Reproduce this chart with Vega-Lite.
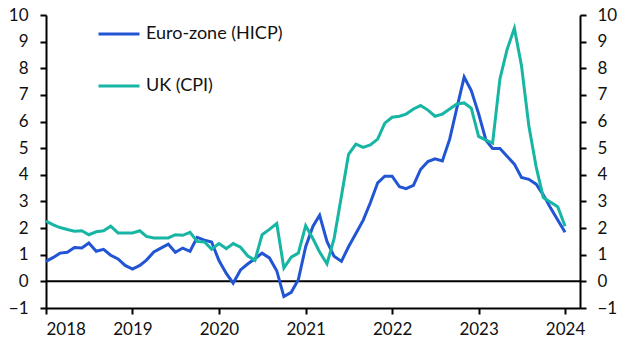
{
  "$schema": "https://vega.github.io/schema/vega-lite/v6.json",
  "width": 534,
  "height": 293,
  "autosize": {"type": "none"},
  "padding": {"left": 46, "top": 15, "right": 48, "bottom": 56},
  "background": "white",
  "config": {
    "view": {"stroke": null},
    "font": "Lato",
    "axis": {
      "domainColor": "black",
      "domainWidth": 2,
      "tickColor": "black",
      "tickWidth": 2,
      "tickSize": 6,
      "labelFont": "Lato",
      "labelFontSize": 17,
      "labelColor": "#111111",
      "grid": false,
      "title": null
    },
    "legend": {
      "orient": "none",
      "legendX": 51,
      "legendY": -3,
      "symbolType": "stroke",
      "symbolSize": 1681,
      "symbolStrokeWidth": 3,
      "labelFont": "Lato",
      "labelFontSize": 18,
      "labelColor": "#111111",
      "rowPadding": 21,
      "labelOffset": 5,
      "padding": 0
    }
  },
  "layer": [
    {
      "data": {"values": [{}]},
      "mark": {"type": "rule", "color": "black", "strokeWidth": 2},
      "encoding": {
        "y": {
          "datum": 0,
          "type": "quantitative",
          "scale": {"domain": [-1, 10], "nice": false, "zero": false},
          "axis": {"orient": "right", "values": [-1,0,1,2,3,4,5,6,7,8,9,10], "labelPadding": 11, "title": null}
        }
      }
    },
    {
      "data": {
        "values": [
          {"date": "2018-01-01", "ez": 0.75, "uk": 2.26},
          {"date": "2018-02-01", "ez": 0.9, "uk": 2.12},
          {"date": "2018-03-01", "ez": 1.06, "uk": 2.02},
          {"date": "2018-04-01", "ez": 1.09, "uk": 1.95},
          {"date": "2018-05-01", "ez": 1.27, "uk": 1.88},
          {"date": "2018-06-01", "ez": 1.25, "uk": 1.9},
          {"date": "2018-07-01", "ez": 1.44, "uk": 1.75},
          {"date": "2018-08-01", "ez": 1.13, "uk": 1.86},
          {"date": "2018-09-01", "ez": 1.2, "uk": 1.9},
          {"date": "2018-10-01", "ez": 0.98, "uk": 2.07},
          {"date": "2018-11-01", "ez": 0.84, "uk": 1.82},
          {"date": "2018-12-01", "ez": 0.6, "uk": 1.82},
          {"date": "2019-01-01", "ez": 0.46, "uk": 1.82},
          {"date": "2019-02-01", "ez": 0.6, "uk": 1.9},
          {"date": "2019-03-01", "ez": 0.8, "uk": 1.69},
          {"date": "2019-04-01", "ez": 1.1, "uk": 1.63},
          {"date": "2019-05-01", "ez": 1.25, "uk": 1.63},
          {"date": "2019-06-01", "ez": 1.4, "uk": 1.63},
          {"date": "2019-07-01", "ez": 1.09, "uk": 1.75},
          {"date": "2019-08-01", "ez": 1.25, "uk": 1.73},
          {"date": "2019-09-01", "ez": 1.13, "uk": 1.84},
          {"date": "2019-10-01", "ez": 1.65, "uk": 1.5},
          {"date": "2019-11-01", "ez": 1.55, "uk": 1.48},
          {"date": "2019-12-01", "ez": 1.48, "uk": 1.21},
          {"date": "2020-01-01", "ez": 0.78, "uk": 1.42},
          {"date": "2020-02-01", "ez": 0.3, "uk": 1.23},
          {"date": "2020-03-01", "ez": -0.07, "uk": 1.42},
          {"date": "2020-04-01", "ez": 0.43, "uk": 1.28},
          {"date": "2020-05-01", "ez": 0.65, "uk": 0.96},
          {"date": "2020-06-01", "ez": 0.85, "uk": 0.79},
          {"date": "2020-07-01", "ez": 1.06, "uk": 1.75},
          {"date": "2020-08-01", "ez": 0.88, "uk": 1.95},
          {"date": "2020-09-01", "ez": 0.4, "uk": 2.17},
          {"date": "2020-10-01", "ez": -0.57, "uk": 0.5},
          {"date": "2020-11-01", "ez": -0.41, "uk": 0.91},
          {"date": "2020-12-01", "ez": 0.06, "uk": 1.06},
          {"date": "2021-01-01", "ez": 1.3, "uk": 2.09},
          {"date": "2021-02-01", "ez": 2.07, "uk": 1.6},
          {"date": "2021-03-01", "ez": 2.48, "uk": 1.1},
          {"date": "2021-04-01", "ez": 1.5, "uk": 0.66},
          {"date": "2021-05-01", "ez": 0.94, "uk": 1.6},
          {"date": "2021-06-01", "ez": 0.75, "uk": 3.2},
          {"date": "2021-07-01", "ez": 1.3, "uk": 4.77},
          {"date": "2021-08-01", "ez": 1.8, "uk": 5.15},
          {"date": "2021-09-01", "ez": 2.3, "uk": 5.03},
          {"date": "2021-10-01", "ez": 2.95, "uk": 5.12},
          {"date": "2021-11-01", "ez": 3.7, "uk": 5.34},
          {"date": "2021-12-01", "ez": 3.95, "uk": 5.94},
          {"date": "2022-01-01", "ez": 3.95, "uk": 6.16},
          {"date": "2022-02-01", "ez": 3.55, "uk": 6.2},
          {"date": "2022-03-01", "ez": 3.48, "uk": 6.28},
          {"date": "2022-04-01", "ez": 3.6, "uk": 6.47},
          {"date": "2022-05-01", "ez": 4.2, "uk": 6.6},
          {"date": "2022-06-01", "ez": 4.5, "uk": 6.43},
          {"date": "2022-07-01", "ez": 4.6, "uk": 6.2},
          {"date": "2022-08-01", "ez": 4.52, "uk": 6.28},
          {"date": "2022-09-01", "ez": 5.34, "uk": 6.47},
          {"date": "2022-10-01", "ez": 6.5, "uk": 6.66},
          {"date": "2022-11-01", "ez": 7.67, "uk": 6.7},
          {"date": "2022-12-01", "ez": 7.16, "uk": 6.5},
          {"date": "2023-01-01", "ez": 6.3, "uk": 5.44},
          {"date": "2023-02-01", "ez": 5.3, "uk": 5.3},
          {"date": "2023-03-01", "ez": 4.99, "uk": 5.19},
          {"date": "2023-04-01", "ez": 4.99, "uk": 7.6},
          {"date": "2023-05-01", "ez": 4.7, "uk": 8.7},
          {"date": "2023-06-01", "ez": 4.4, "uk": 9.5},
          {"date": "2023-07-01", "ez": 3.9, "uk": 8.1},
          {"date": "2023-08-01", "ez": 3.83, "uk": 5.84},
          {"date": "2023-09-01", "ez": 3.65, "uk": 4.3},
          {"date": "2023-10-01", "ez": 3.25, "uk": 3.15},
          {"date": "2023-11-01", "ez": 2.75, "uk": 2.97},
          {"date": "2023-12-01", "ez": 2.3, "uk": 2.8},
          {"date": "2024-01-01", "ez": 1.84, "uk": 2.07}
        ]
      },
      "transform": [
        {"fold": ["ez", "uk"], "as": ["key", "value"]},
        {"lookup": "key", "from": {"data": {"values": [{"key": "ez", "series": "Euro-zone (HICP)"}, {"key": "uk", "series": "UK (CPI)"}]}, "key": "key", "fields": ["series"]}}
      ],
      "mark": {"type": "line", "strokeWidth": 3},
      "encoding": {
        "x": {
          "field": "date",
          "type": "temporal",
          "scale": {"type": "utc", "domain": [{"year": 2018, "month": 1, "date": 1, "utc": true}, {"year": 2024, "month": 3, "date": 4, "utc": true}]},
          "axis": {
            "values": [
              {"year": 2018, "month": 1, "date": 1, "utc": true},
              {"year": 2019, "month": 1, "date": 1, "utc": true},
              {"year": 2020, "month": 1, "date": 1, "utc": true},
              {"year": 2021, "month": 1, "date": 1, "utc": true},
              {"year": 2022, "month": 1, "date": 1, "utc": true},
              {"year": 2023, "month": 1, "date": 1, "utc": true},
              {"year": 2024, "month": 1, "date": 1, "utc": true}
            ],
            "format": "%Y",
            "formatType": "utc",
            "labelPadding": 7,
            "title": null
          }
        },
        "y": {
          "field": "value",
          "type": "quantitative",
          "scale": {"domain": [-1, 10], "nice": false, "zero": false},
          "axis": {"orient": "left", "values": [-1,0,1,2,3,4,5,6,7,8,9,10], "labelPadding": 12, "title": null}
        },
        "color": {
          "field": "series",
          "type": "nominal",
          "scale": {"domain": ["Euro-zone (HICP)", "UK (CPI)"], "range": ["#2255d4", "#17b5a3"]},
          "legend": {"title": null}
        }
      }
    }
  ],
  "resolve": {"axis": {"y": "independent"}}
}
